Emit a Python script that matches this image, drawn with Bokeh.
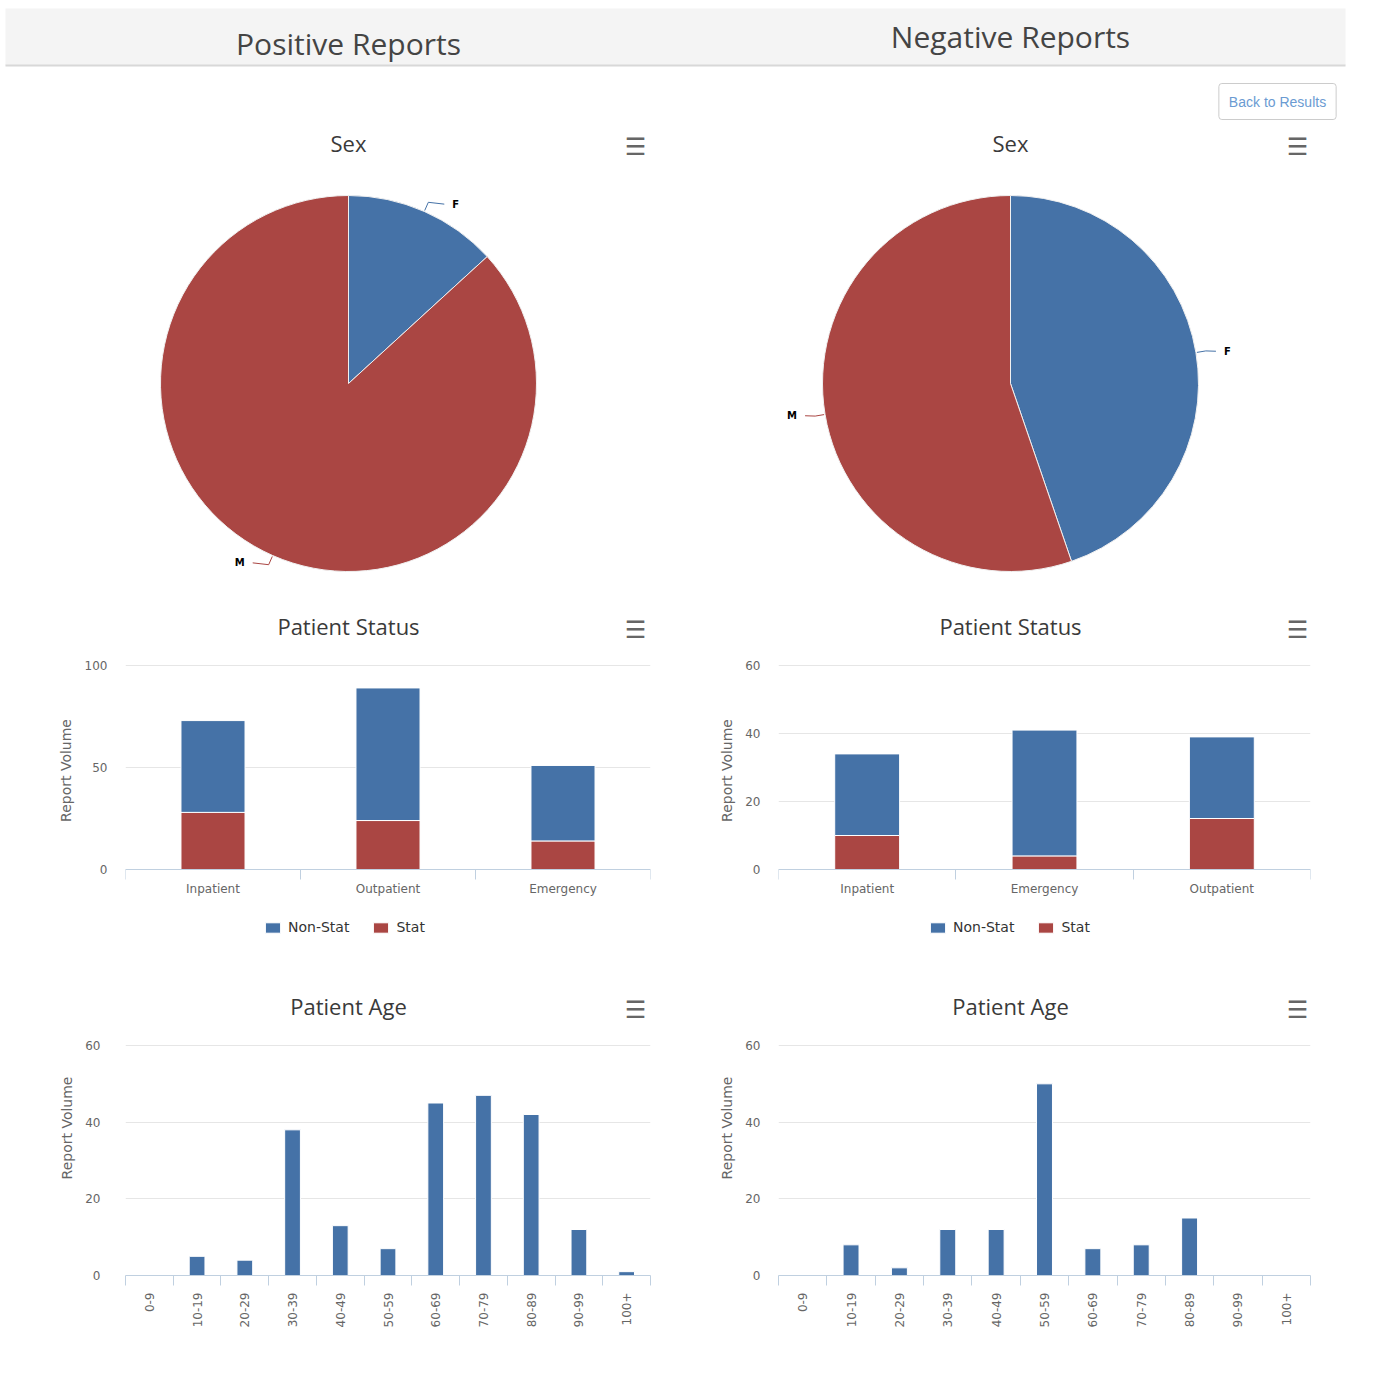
import numpy as np
from bokeh.plotting import figure
from bokeh.models import (Range1d, FixedTicker, Label, Legend, LegendItem,
                          ColumnDataSource)
from bokeh.core.properties import value
from bokeh.layouts import column, row
from bokeh.embed import file_html
from bokeh.resources import INLINE

BLUE = "#4572A7"
RED = "#AA4643"
TITLE_FONT = "Open Sans"
SMALL_FONT = "DejaVu Sans"

# ---------------- data ----------------
sex_labels = ["F", "M"]
pos_sex = [28, 184]
neg_sex = [51, 63]

pos_status_cats = ["Inpatient", "Outpatient", "Emergency"]
pos_status_nonstat = [45, 65, 37]
pos_status_stat = [28, 24, 14]

neg_status_cats = ["Inpatient", "Emergency", "Outpatient"]
neg_status_nonstat = [24, 37, 24]
neg_status_stat = [10, 4, 15]

age_cats = ["0-9", "10-19", "20-29", "30-39", "40-49", "50-59",
            "60-69", "70-79", "80-89", "90-99", "100+"]
pos_age = [0, 5, 4, 38, 13, 7, 45, 47, 42, 12, 1]
neg_age = [0, 8, 2, 12, 12, 50, 7, 8, 15, 0, 0]

# panel geometry (pixels)
LEFT_W, RIGHT_W = 679, 694
LEFT_MB = (125, 29)
RIGHT_MB = (99, 63)


def hamburger(p, x, y):
    p.add_layout(Label(x=x, y=y, x_units="screen", y_units="screen", text="\u2630",
                       text_font="DejaVu Sans", text_font_size="24px",
                       text_font_style="bold", text_color="#666666",
                       text_align="center", text_baseline="middle"))


def chart_title(p, x, y, text):
    p.add_layout(Label(x=x, y=y, x_units="screen", y_units="screen", text=text,
                       text_font=TITLE_FONT, text_font_size="22px", text_color="#3a3a3a",
                       text_align="center", text_baseline="middle"))


def pie_chart(values, width, mb, center_abs, panel_left):
    H = 480
    top = 263
    fl = panel_left + mb[0]
    fr = panel_left + width - mb[1]
    p = figure(width=width, height=H, x_range=Range1d(fl - center_abs, fr - center_abs),
               y_range=Range1d(-(H - top), top), toolbar_location=None,
               output_backend="svg", min_border_left=mb[0], min_border_right=mb[1],
               min_border_top=0, min_border_bottom=0, x_axis_location=None,
               y_axis_location=None)
    p.grid.visible = False
    p.outline_line_color = None
    R = 188
    vals = np.array(values, dtype=float)
    frac = vals / vals.sum()
    ends = np.cumsum(frac)
    starts = ends - frac
    p.wedge(x=0, y=0, radius=R, start_angle=np.pi / 2 - starts * 2 * np.pi,
            end_angle=np.pi / 2 - ends * 2 * np.pi, direction="clock",
            fill_color=[BLUE, RED], line_color="#f0f0f0", line_width=1)
    mid = (starts + ends) / 2 * 2 * np.pi
    sn, cs = np.sin(mid), np.cos(mid)
    side = np.sign(sn)
    lx = R * sn + side * 28
    ly = (R + 8) * cs
    xs, ys = [], []
    for i in range(len(vals)):
        xs.append([(R + 1) * sn[i], (R + 10) * sn[i], lx[i] - side[i] * 8])
        ys.append([(R + 1) * cs[i], (R + 10) * cs[i], ly[i]])
    p.multi_line(xs=xs, ys=ys, line_color=[BLUE, RED], line_width=1)
    src = ColumnDataSource(dict(x=lx, y=ly, t=sex_labels,
                                a=["left" if s > 0 else "right" for s in side]))
    p.text(x="x", y="y", text="t", text_align="a", text_baseline="middle",
           text_font=value(SMALL_FONT), text_font_style="bold", text_font_size="10px",
           text_color="black", source=src)
    chart_title(p, center_abs - fl, 600 - 142, "Sex")
    hamburger(p, center_abs + 287 - fl, 600 - 146)
    return p


def style_axes(p, n, cats, yticks, tick_standoff, label_standoff, rotate=False):
    xs = list(np.arange(n) + 0.5)
    xa = p.xaxis[0]
    xa.ticker = FixedTicker(ticks=xs, minor_ticks=list(range(n + 1)))
    xa.major_label_overrides = {float(x): c for x, c in zip(xs, cats)}
    xa.axis_line_color = "#C0D0E0"
    xa.major_tick_line_color = None
    xa.major_tick_out = 0
    xa.major_tick_in = 0
    xa.minor_tick_line_color = "#C0D0E0"
    xa.minor_tick_in = 0
    xa.minor_tick_out = 10
    xa.major_label_text_font = SMALL_FONT
    xa.major_label_text_font_size = "12px"
    xa.major_label_text_color = "#666666"
    if rotate:
        xa.major_label_orientation = np.pi / 2
        xa.major_label_standoff = 7
    else:
        xa.major_label_standoff = 2
    ya = p.yaxis[0]
    yt = FixedTicker(ticks=yticks)
    ya.ticker = yt
    p.ygrid.ticker = yt
    ya.axis_line_color = None
    ya.major_tick_line_color = None
    ya.minor_tick_line_color = None
    ya.major_tick_out = 0
    ya.major_tick_in = 0
    ya.major_label_text_font = SMALL_FONT
    ya.major_label_text_font_size = "12px"
    ya.major_label_text_color = "#666666"
    ya.major_label_standoff = tick_standoff
    ya.axis_label = "Report Volume"
    ya.axis_label_text_font = SMALL_FONT
    ya.axis_label_text_font_size = "14px"
    ya.axis_label_text_font_style = "normal"
    ya.axis_label_text_color = "#666666"
    ya.axis_label_standoff = label_standoff
    p.xgrid.visible = False
    p.ygrid.grid_line_color = "#E6E6E6"
    p.outline_line_color = None


def status_chart(cats, nonstat, stat, width, mb, panel_left, ymax, yticks,
                 label_standoff, legend_x):
    n = len(cats)
    # frame spans abs y 600..940; value 0 sits at abs y 869 and ymax at abs y 665
    per_px = ymax / (869 - 665)
    p = figure(width=width, height=380, x_range=Range1d(0, n),
               y_range=Range1d(-per_px * (940 - 869), per_px * (869 - 600)),
               toolbar_location=None, output_backend="svg", min_border_left=mb[0],
               min_border_right=mb[1], min_border_top=0, min_border_bottom=40)
    src = ColumnDataSource(dict(x=np.arange(n) + 0.5, Stat=stat, NonStat=nonstat))
    rs = p.vbar_stack(["Stat", "NonStat"], x="x", width=0.366, color=[RED, BLUE],
                      line_color="white", line_width=1, source=src)
    style_axes(p, n, cats, yticks, 18, label_standoff)
    p.xaxis[0].fixed_location = 0
    leg = Legend(items=[LegendItem(label="Non-Stat", renderers=[rs[1]]),
                        LegendItem(label="Stat", renderers=[rs[0]])],
                 orientation="horizontal", location=(legend_x, 5),
                 border_line_color=None, background_fill_alpha=0,
                 label_text_font=SMALL_FONT, label_text_font_size="14px",
                 label_text_color="#333333", glyph_width=19, glyph_height=13,
                 spacing=22, padding=0, margin=0, label_standoff=6)
    p.add_layout(leg)
    fl = panel_left + mb[0]
    center = 348 if panel_left == 0 else 1010
    chart_title(p, center - fl, 940 - 625, "Patient Status")
    hamburger(p, center + 287 - fl, 940 - 629)
    return p


def age_chart(values, width, mb, panel_left, tick_standoff, label_standoff):
    n = len(age_cats)
    ytop = 60 * (1275 - 980) / (1275 - 1045)
    p = figure(width=width, height=394, x_range=Range1d(0, n), y_range=Range1d(0, ytop),
               toolbar_location=None, output_backend="svg", min_border_left=mb[0],
               min_border_right=mb[1], min_border_top=0, min_border_bottom=99)
    src = ColumnDataSource(dict(x=np.arange(n) + 0.5, v=values))
    p.vbar(x="x", top="v", width=0.33, color=BLUE, line_color="white", line_width=1,
           source=src)
    style_axes(p, n, age_cats, [0, 20, 40, 60], tick_standoff, label_standoff, rotate=True)
    fl = panel_left + mb[0]
    center = 348 if panel_left == 0 else 1010
    chart_title(p, center - fl, 1275 - 1005, "Patient Age")
    hamburger(p, center + 287 - fl, 1275 - 1009)
    return p


# ---------------- header ----------------
hdr = figure(width=1373, height=120, x_range=Range1d(0, 1373), y_range=Range1d(120, 0),
             min_border=0, x_axis_location=None, y_axis_location=None,
             toolbar_location=None, output_backend="svg")
hdr.grid.visible = False
hdr.outline_line_color = None
hdr.quad(left=5, right=1345, top=8, bottom=65, fill_color="#f4f4f4", line_color=None)
hdr.segment(x0=5, x1=1345, y0=65, y1=65, line_color="#d8d8d8", line_width=2)
hdr.add_layout(Label(x=348, y=43, text="Positive Reports", text_font=TITLE_FONT,
                     text_font_size="30px", text_color="#444444", text_align="center",
                     text_baseline="middle"))
hdr.add_layout(Label(x=1010, y=36, text="Negative Reports", text_font=TITLE_FONT,
                     text_font_size="30px", text_color="#444444", text_align="center",
                     text_baseline="middle"))
hdr.add_layout(Label(x=1277, y=101, text="Back to Results", text_font="Liberation Sans",
                     text_font_size="14px", text_color="#6b9bd2",
                     text_align="center", text_baseline="middle",
                     border_line_color="#cccccc", background_fill_color="white",
                     padding=10, border_radius=3))

# ---------------- panels ----------------
pieL = pie_chart(pos_sex, LEFT_W, LEFT_MB, 348, 0)
pieR = pie_chart(neg_sex, RIGHT_W, RIGHT_MB, 1010, LEFT_W)

stL = status_chart(pos_status_cats, pos_status_nonstat, pos_status_stat, LEFT_W, LEFT_MB, 0,
                   100, [0, 50, 100], 8, 138)
stR = status_chart(neg_status_cats, neg_status_nonstat, neg_status_stat, RIGHT_W, RIGHT_MB,
                   LEFT_W, 60, [0, 20, 40, 60], 7, 150)

agL = age_chart(pos_age, LEFT_W, LEFT_MB, 0, 25, 7)
agR = age_chart(neg_age, RIGHT_W, RIGHT_MB, LEFT_W, 18, 7)

layout = column(hdr, row(column(pieL, stL, agL), column(pieR, stR, agR)))

open("out.html", "w").write(file_html(layout, INLINE))
